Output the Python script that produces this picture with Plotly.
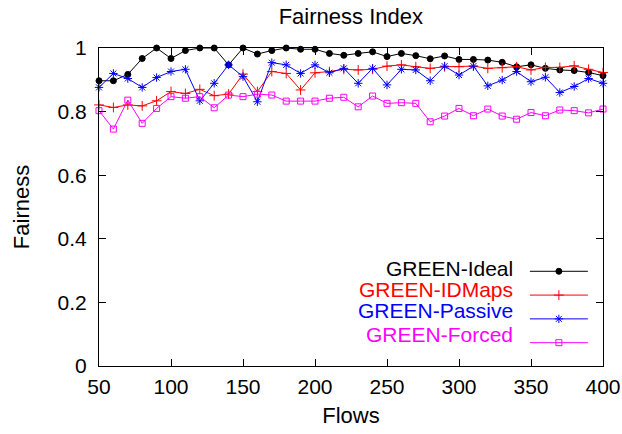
import plotly.graph_objects as go

flows = list(range(50, 401, 10))

ideal = [0.897, 0.897, 0.917, 0.967, 1.0, 0.967, 0.992, 1.0, 1.0, 0.947, 1.0, 0.981,
         0.992, 1.0, 0.996, 0.996, 0.983, 0.977, 0.983, 0.988, 0.973, 0.983, 0.976, 0.966,
         0.975, 0.964, 0.964, 0.962, 0.955, 0.941, 0.947, 0.936, 0.931, 0.929, 0.923, 0.913]
idmaps = [0.821, 0.813, 0.821, 0.818, 0.834, 0.863, 0.857, 0.870, 0.850, 0.855, 0.918, 0.863,
          0.926, 0.920, 0.868, 0.922, 0.926, 0.933, 0.931, 0.933, 0.943, 0.947, 0.941, 0.936,
          0.941, 0.941, 0.943, 0.936, 0.938, 0.941, 0.931, 0.939, 0.939, 0.944, 0.933, 0.923]
passive = [0.876, 0.920, 0.904, 0.876, 0.907, 0.926, 0.933, 0.834, 0.889, 0.947, 0.910, 0.831,
           0.954, 0.947, 0.920, 0.947, 0.922, 0.936, 0.889, 0.936, 0.884, 0.933, 0.931, 0.897,
           0.943, 0.915, 0.943, 0.881, 0.899, 0.926, 0.894, 0.908, 0.860, 0.879, 0.904, 0.889]
forced = [0.803, 0.745, 0.836, 0.763, 0.810, 0.847, 0.842, 0.847, 0.812, 0.852, 0.847, 0.855,
          0.852, 0.833, 0.833, 0.833, 0.842, 0.845, 0.815, 0.849, 0.826, 0.828, 0.826, 0.768,
          0.786, 0.810, 0.787, 0.808, 0.786, 0.776, 0.797, 0.787, 0.805, 0.803, 0.796, 0.808]

names = ["GREEN-Ideal", "GREEN-IDMaps", "GREEN-Passive", "GREEN-Forced"]
colors = ["#000000", "#ff0000", "#0000ff", "#ff00ff"]
symbols = ["circle", "cross-thin-open", "asterisk-open", "square-open"]
sizes = [6, 7, 7, 6]
series = [ideal, idmaps, passive, forced]

FONT = "Liberation Sans, Arial, sans-serif"

fig = go.Figure()
for name, col, sym, sz, ys in zip(names, colors, symbols, sizes, series):
    fig.add_trace(go.Scatter(
        x=flows, y=ys, mode="lines+markers", name=" ",
        line=dict(color=col, width=1),
        marker=dict(symbol=sym, size=sz, color=col, line=dict(color=col, width=1)),
        cliponaxis=False,
    ))

legend_y = [0.308, 0.239, 0.173, 0.100]
annotations = []
for name, col, yy in zip(names, colors, legend_y):
    annotations.append(dict(
        text=name, x=0.825, y=yy, xref="paper", yref="paper",
        xanchor="right", yanchor="middle", showarrow=False,
        font=dict(family=FONT, size=21, color=col),
    ))

axis_common = dict(
    showline=True, linecolor="black", linewidth=1, mirror="allticks",
    ticks="inside", ticklen=7, tickcolor="black", tickwidth=1,
    showgrid=False, zeroline=False, automargin=False,
    tickfont=dict(family=FONT, size=21, color="#000000"),
)

fig.update_layout(
    width=622, height=434,
    margin=dict(l=99, r=19, t=48, b=68),
    paper_bgcolor="white", plot_bgcolor="white",
    title=dict(text="Fairness Index", x=0.564, xanchor="center", y=0.963, yanchor="middle",
               font=dict(family=FONT, size=22, color="#000000")),
    xaxis=dict(range=[50, 400], tickvals=[50, 100, 150, 200, 250, 300, 350, 400],
               ticklabelstandoff=2, ticklabeloverflow="allow",
               title=dict(text="Flows", font=dict(family=FONT, size=22, color="#000000"), standoff=10),
               **axis_common),
    yaxis=dict(range=[0, 1], tickvals=[0, 0.2, 0.4, 0.6, 0.8, 1],
               ticktext=["0", "0.2", "0.4", "0.6", "0.8", "1"],
               ticklabelstandoff=7,
               title=dict(text="Fairness", font=dict(family=FONT, size=22, color="#000000"), standoff=21),
               **axis_common),
    showlegend=True,
    legend=dict(x=0.845, y=0.351, xanchor="left", yanchor="top",
                bgcolor="rgba(0,0,0,0)", font=dict(family=FONT, size=16),
                itemwidth=58, tracegroupgap=0),
    annotations=annotations,
)

fig.write_html("out.html",
               config={"displayModeBar": False},
               post_script="document.body.style.margin='0px';document.body.style.overflow='hidden';")
